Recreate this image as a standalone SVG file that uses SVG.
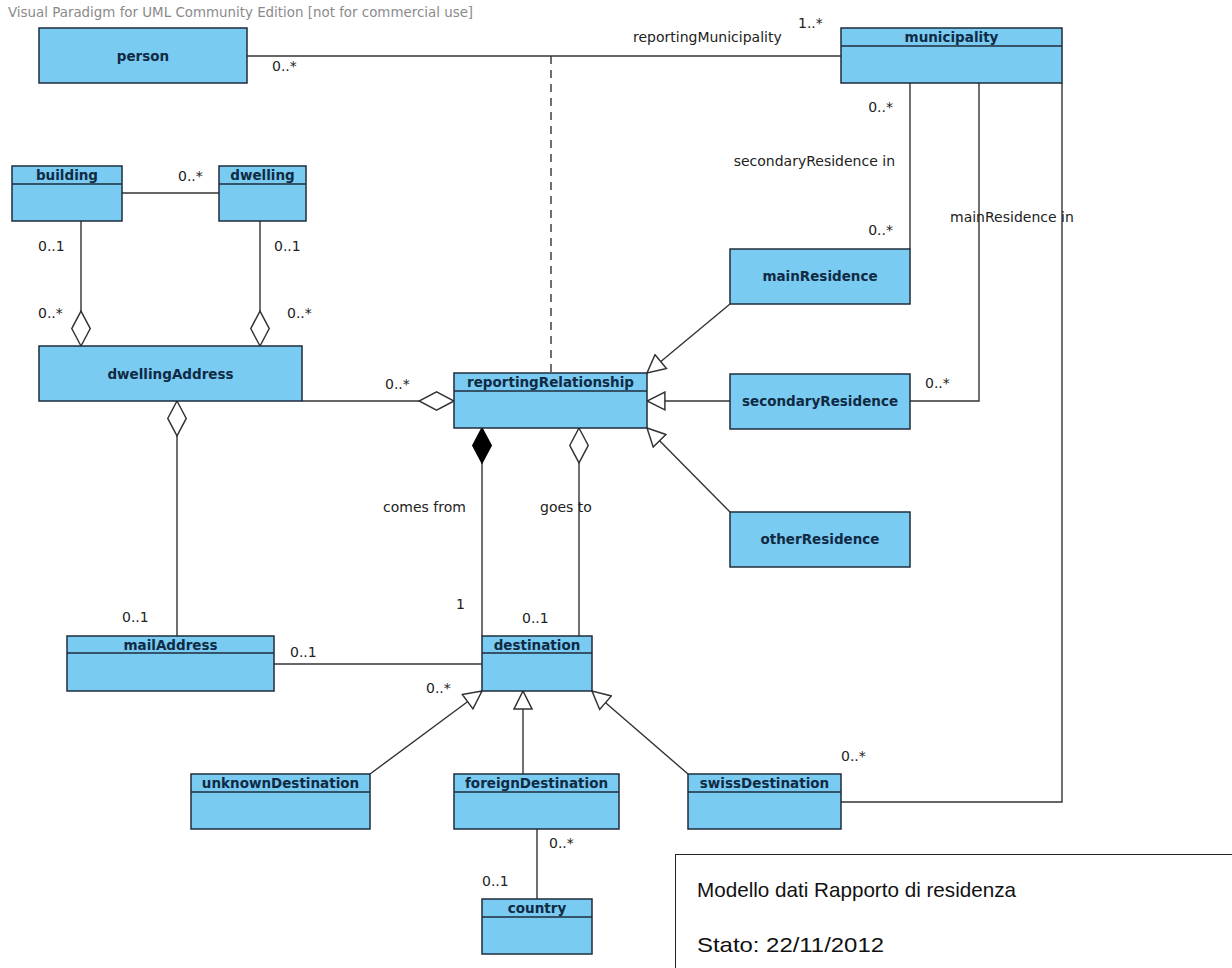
<svg xmlns="http://www.w3.org/2000/svg" width="1232" height="968" viewBox="0 0 1232 968">
  <style>
    .cls { fill: #79cbf1; stroke: #1f2d3d; stroke-width: 1.5; }
    .div { stroke: #1f2d3d; stroke-width: 1.5; }
    .name { font-family: "DejaVu Sans", Verdana, sans-serif; font-weight: bold; font-size: 13.5px; fill: #102a44; text-anchor: middle; }
    .lbl { font-family: "DejaVu Sans", Verdana, sans-serif; font-size: 14px; fill: #222; }
    .ln { fill: none; stroke: #333; stroke-width: 1.4; }
    .gen { marker-end: url(#tri); }
    .agg { marker-start: url(#dia); }
    .comp { marker-start: url(#diaF); }
    .note { font-family: "Liberation Sans", Arial, sans-serif; font-size: 21px; fill: #111; }
  </style>
  <defs>
    <!-- hollow triangle: generalization -->
    <marker id="tri" markerUnits="userSpaceOnUse" markerWidth="20" markerHeight="20" viewBox="-1 -1 19 19" refX="17" refY="8.5" orient="auto">
      <path d="M0,0 L17,8.5 L0,17 Z" fill="#fff" stroke="#333" stroke-width="1.4"/>
    </marker>
    <!-- hollow diamond: aggregation -->
    <marker id="dia" markerUnits="userSpaceOnUse" markerWidth="38" markerHeight="22" viewBox="-1 -10 37 20" refX="0" refY="0" orient="auto">
      <path d="M0,0 L17,-9 L34,0 L17,9 Z" fill="#fff" stroke="#333" stroke-width="1.4"/>
    </marker>
    <!-- filled diamond: composition -->
    <marker id="diaF" markerUnits="userSpaceOnUse" markerWidth="38" markerHeight="22" viewBox="-1 -10 37 20" refX="0" refY="0" orient="auto">
      <path d="M0,0 L17,-9 L34,0 L17,9 Z" fill="#000" stroke="#000" stroke-width="1.4"/>
    </marker>
  </defs>

  <rect width="1232" height="968" fill="#fff"/>
  <text x="8" y="17" font-family="DejaVu Sans, Verdana, sans-serif" font-size="13.4" fill="#8a8a8a">Visual Paradigm for UML Community Edition [not for commercial use]</text>

  <g id="connectors">
    <!-- person - municipality -->
    <path class="ln" d="M247,56 H841"/>
    <path class="ln" d="M551,56 V373" stroke-dasharray="8,6"/>
    <!-- municipality associations -->
    <path class="ln" d="M910,83 V249"/>
    <path class="ln" d="M979,83 V401 H910"/>
    <path class="ln" d="M1062,83 V802 H841"/>
    <!-- building - dwelling -->
    <path class="ln" d="M122,193 H219"/>
    <!-- aggregations onto dwellingAddress -->
    <path class="ln agg" d="M81,346 V221"/>
    <path class="ln agg" d="M260,346 V221"/>
    <path class="ln agg" d="M177,401 V636"/>
    <!-- dwellingAddress - reportingRelationship -->
    <path class="ln agg" d="M454,401 H302"/>
    <!-- reportingRelationship - destination -->
    <path class="ln comp" d="M482,428 V636"/>
    <path class="ln agg" d="M579,428 V636"/>
    <!-- mailAddress - destination -->
    <path class="ln" d="M274,664 H482"/>
    <!-- generalizations -->
    <path class="ln gen" d="M730,304 L647,373"/>
    <path class="ln gen" d="M730,401 H647"/>
    <path class="ln gen" d="M730,512 L647,428"/>
    <path class="ln gen" d="M370,774 L482,691"/>
    <path class="ln gen" d="M523,774 V691"/>
    <path class="ln gen" d="M688,774 L592,691"/>
    <!-- foreignDestination - country -->
    <path class="ln" d="M537,829 V899"/>

    <!-- multiplicities and role names -->
    <text class="lbl" x="272" y="71">0..*</text>
    <text class="lbl" x="633" y="42">reportingMunicipality</text>
    <text class="lbl" x="798" y="28">1..*</text>
    <text class="lbl" x="893" y="112" text-anchor="end">0..*</text>
    <text class="lbl" x="895" y="166" text-anchor="end">secondaryResidence in</text>
    <text class="lbl" x="893" y="235" text-anchor="end">0..*</text>
    <text class="lbl" x="950" y="222">mainResidence in</text>
    <text class="lbl" x="925" y="388">0..*</text>
    <text class="lbl" x="841" y="761">0..*</text>
    <text class="lbl" x="178" y="181">0..*</text>
    <text class="lbl" x="38" y="251">0..1</text>
    <text class="lbl" x="38" y="318">0..*</text>
    <text class="lbl" x="274" y="251">0..1</text>
    <text class="lbl" x="287" y="318">0..*</text>
    <text class="lbl" x="385" y="389">0..*</text>
    <text class="lbl" x="122" y="622">0..1</text>
    <text class="lbl" x="383" y="512">comes from</text>
    <text class="lbl" x="540" y="512">goes to</text>
    <text class="lbl" x="456" y="609">1</text>
    <text class="lbl" x="522" y="623">0..1</text>
    <text class="lbl" x="290" y="657">0..1</text>
    <text class="lbl" x="426" y="693">0..*</text>
    <text class="lbl" x="549" y="848">0..*</text>
    <text class="lbl" x="482" y="886">0..1</text>
  </g>

  <g id="person">
    <rect class="cls" x="39" y="28" width="208" height="55"/>
    <text class="name" x="143" y="61">person</text>
  </g>
  <g id="municipality">
    <rect class="cls" x="841" y="28" width="221" height="55"/>
    <line class="div" x1="841" y1="46" x2="1062" y2="46"/>
    <text class="name" x="951.5" y="42">municipality</text>
  </g>
  <g id="building">
    <rect class="cls" x="12" y="166" width="110" height="55"/>
    <line class="div" x1="12" y1="184" x2="122" y2="184"/>
    <text class="name" x="67" y="180">building</text>
  </g>
  <g id="dwelling">
    <rect class="cls" x="219" y="166" width="87" height="55"/>
    <line class="div" x1="219" y1="184" x2="306" y2="184"/>
    <text class="name" x="262.5" y="180">dwelling</text>
  </g>
  <g id="dwellingAddress">
    <rect class="cls" x="39" y="346" width="263" height="55"/>
    <text class="name" x="170.5" y="379">dwellingAddress</text>
  </g>
  <g id="reportingRelationship">
    <rect class="cls" x="454" y="373" width="193" height="55"/>
    <line class="div" x1="454" y1="391" x2="647" y2="391"/>
    <text class="name" x="550.5" y="387">reportingRelationship</text>
  </g>
  <g id="mainResidence">
    <rect class="cls" x="730" y="249" width="180" height="55"/>
    <text class="name" x="820" y="281">mainResidence</text>
  </g>
  <g id="secondaryResidence">
    <rect class="cls" x="730" y="374" width="180" height="55"/>
    <text class="name" x="820" y="406">secondaryResidence</text>
  </g>
  <g id="otherResidence">
    <rect class="cls" x="730" y="512" width="180" height="55"/>
    <text class="name" x="820" y="544">otherResidence</text>
  </g>
  <g id="mailAddress">
    <rect class="cls" x="67" y="636" width="207" height="55"/>
    <line class="div" x1="67" y1="653" x2="274" y2="653"/>
    <text class="name" x="170.5" y="650">mailAddress</text>
  </g>
  <g id="destination">
    <rect class="cls" x="482" y="636" width="110" height="55"/>
    <line class="div" x1="482" y1="653" x2="592" y2="653"/>
    <text class="name" x="537" y="650">destination</text>
  </g>
  <g id="unknownDestination">
    <rect class="cls" x="191" y="774" width="179" height="55"/>
    <line class="div" x1="191" y1="792" x2="370" y2="792"/>
    <text class="name" x="280.5" y="788">unknownDestination</text>
  </g>
  <g id="foreignDestination">
    <rect class="cls" x="454" y="774" width="165" height="55"/>
    <line class="div" x1="454" y1="792" x2="619" y2="792"/>
    <text class="name" x="536.5" y="788">foreignDestination</text>
  </g>
  <g id="swissDestination">
    <rect class="cls" x="688" y="774" width="153" height="55"/>
    <line class="div" x1="688" y1="792" x2="841" y2="792"/>
    <text class="name" x="764.5" y="788">swissDestination</text>
  </g>
  <g id="country">
    <rect class="cls" x="482" y="899" width="110" height="55"/>
    <line class="div" x1="482" y1="917" x2="592" y2="917"/>
    <text class="name" x="537" y="913">country</text>
  </g>

  <g id="legend">
    <rect x="675.5" y="854.5" width="600" height="150" fill="#fff" stroke="#222" stroke-width="1"/>
    <text class="note" x="697" y="897" textLength="319" lengthAdjust="spacingAndGlyphs">Modello dati Rapporto di residenza</text>
    <text class="note" x="697" y="952" textLength="187" lengthAdjust="spacingAndGlyphs">Stato: 22/11/2012</text>
  </g>
</svg>
